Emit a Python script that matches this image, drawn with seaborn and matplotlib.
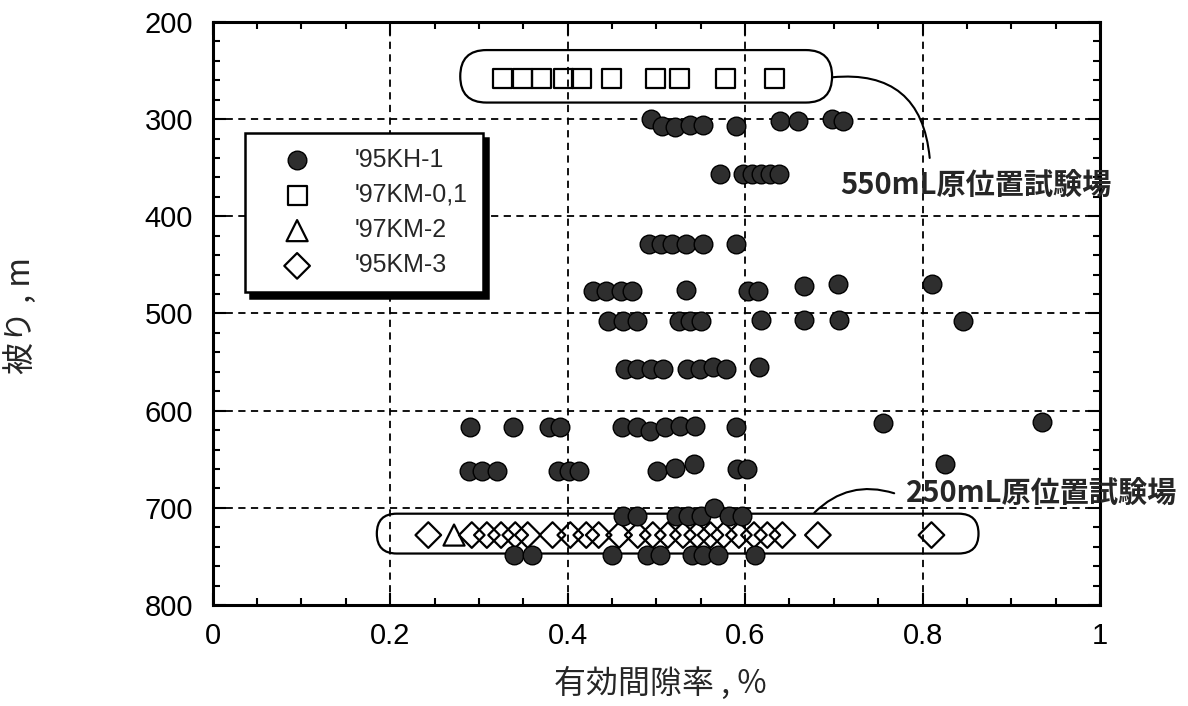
import matplotlib
matplotlib.use("Agg")
import matplotlib.pyplot as plt
import seaborn as sns
import pandas as pd
from matplotlib.patches import FancyBboxPatch
from matplotlib.ticker import MultipleLocator

# '95KH-1 : effective porosity (%) and depth (m), row by row
kh1_porosity = [
    0.494, 0.506, 0.521, 0.538, 0.553, 0.590, 0.639, 0.660, 0.698, 0.710,
    0.572, 0.598, 0.608, 0.618, 0.628, 0.638,
    0.492, 0.505, 0.518, 0.533, 0.552, 0.590,
    0.429, 0.443, 0.460, 0.473, 0.533, 0.603, 0.615, 0.666, 0.705, 0.811,
    0.446, 0.462, 0.478, 0.525, 0.538, 0.550, 0.618, 0.666, 0.706, 0.846,
    0.465, 0.478, 0.494, 0.508, 0.535, 0.549, 0.564, 0.579, 0.616,
    0.290, 0.339, 0.379, 0.391, 0.461, 0.478, 0.493, 0.510, 0.527, 0.544, 0.590, 0.755, 0.934,
    0.289, 0.303, 0.320, 0.389, 0.401, 0.413, 0.501, 0.521, 0.542, 0.591, 0.602, 0.825,
    0.462, 0.478, 0.522, 0.536, 0.550, 0.565, 0.582, 0.596,
    0.340, 0.360, 0.450, 0.489, 0.504, 0.540, 0.553, 0.570, 0.611,
]
kh1_depth = [
    300, 307, 308, 306, 306, 307, 302, 302, 300, 302,
    357, 357, 357, 357, 357, 357,
    429, 429, 429, 429, 429, 429,
    477, 477, 477, 477, 476, 477, 477, 472, 470, 470,
    508, 508, 508, 508, 508, 508, 507, 507, 507, 508,
    557, 557, 557, 557, 557, 557, 555, 557, 555,
    617, 617, 617, 617, 617, 617, 621, 617, 616, 616, 617, 613, 612,
    662, 662, 662, 662, 662, 662, 662, 659, 655, 660, 660, 655,
    708, 708, 708, 708, 708, 700, 708, 708,
    748, 748, 748, 748, 748, 748, 748, 748, 748,
]

# '97KM-0,1 (550mL site)
km01_porosity = [0.327, 0.349, 0.371, 0.395, 0.416, 0.449, 0.499, 0.526, 0.578, 0.633]
km01_depth = [258] * len(km01_porosity)

# '97KM-2
km2_porosity = [0.272]
km2_depth = [728]

# '95KM-3 (250mL site)
km3_porosity = [0.243, 0.292, 0.309, 0.325, 0.341, 0.355, 0.383, 0.403, 0.421, 0.435,
                0.458, 0.479, 0.496, 0.513, 0.530, 0.546, 0.561, 0.576, 0.593, 0.610,
                0.625, 0.642, 0.682, 0.810]
km3_depth = [728] * len(km3_porosity)

x_ticks = [0, 0.2, 0.4, 0.6, 0.8, 1]
x_ticklabels = ["0", "0.2", "0.4", "0.6", "0.8", "1"]
y_ticks = [200, 300, 400, 500, 600, 700, 800]

sns.set_style("ticks")
plt.rcParams["font.family"] = ["Liberation Sans", "Noto Sans CJK JP", "DejaVu Sans"]
cjk = ["Noto Sans CJK JP", "DejaVu Sans"]

fig = plt.figure(figsize=(11.88, 7.06), dpi=100)
ax = fig.add_axes([0.179, 0.143, 0.747, 0.826])

kh1 = pd.DataFrame({"porosity": kh1_porosity, "depth": kh1_depth})
km01 = pd.DataFrame({"porosity": km01_porosity, "depth": km01_depth})
km2 = pd.DataFrame({"porosity": km2_porosity, "depth": km2_depth})
km3 = pd.DataFrame({"porosity": km3_porosity, "depth": km3_depth})

sns.scatterplot(data=kh1, x="porosity", y="depth", ax=ax, marker="o", s=180,
                color="#2e2e2e", edgecolor="black", linewidth=1.0,
                label="'95KH-1", zorder=4)
sns.scatterplot(data=km01, x="porosity", y="depth", ax=ax, marker="s", s=190,
                color="black", facecolor="none", edgecolor="black", linewidth=1.6,
                label="'97KM-0,1", zorder=3)
sns.scatterplot(data=km2, x="porosity", y="depth", ax=ax, marker="^", s=230,
                color="black", facecolor="none", edgecolor="black", linewidth=1.6,
                label="'97KM-2", zorder=3)
sns.scatterplot(data=km3, x="porosity", y="depth", ax=ax, marker="D", s=170,
                color="black", facecolor="none", edgecolor="black", linewidth=1.6,
                label="'95KM-3", zorder=3)

ax.set_xlim(0, 1)
ax.set_ylim(800, 200)
ax.set_xticks(x_ticks)
ax.set_xticklabels(x_ticklabels)
ax.set_yticks(y_ticks)
ax.xaxis.set_minor_locator(MultipleLocator(0.05))
ax.yaxis.set_minor_locator(MultipleLocator(20))
ax.tick_params(which="both", direction="in", top=True, right=True,
               width=1.5, colors="black", labelsize=21)
ax.tick_params(which="major", length=9)
ax.tick_params(which="minor", length=5)
ax.tick_params(axis="y", pad=14)
ax.tick_params(axis="x", pad=12)
for sp in ax.spines.values():
    sp.set_linewidth(2.2)
    sp.set_color("black")
ax.grid(True, which="major", color="black", linestyle=(0, (4, 3)), linewidth=1.3)
ax.set_axisbelow(True)

ax.set_xlabel("有効間隙率 , %", fontsize=23, family=cjk)
ax.set_ylabel("被り , m", fontsize=23, family=cjk)
ax.xaxis.set_label_coords(0.504, -0.106)
ax.yaxis.set_label_coords(-0.198, 0.497)

# rounded boxes around the in-situ test sites
for x0, x1, y0, y1 in [(0.279, 0.698, 229, 283), (0.185, 0.863, 706, 747)]:
    h = y1 - y0
    aspect = 915.0
    box = FancyBboxPatch((x0, y0), x1 - x0, h,
                         boxstyle="round,pad=0,rounding_size=%f" % (h / aspect / 2),
                         mutation_aspect=aspect, facecolor="none",
                         edgecolor="black", linewidth=1.6, zorder=2)
    ax.add_patch(box)

ax.annotate("", xy=(0.698, 257), xytext=(0.808, 340),
            arrowprops=dict(arrowstyle="-", color="black", lw=1.5,
                            connectionstyle="arc3,rad=0.5", shrinkA=0, shrinkB=0))
ax.annotate("", xy=(0.678, 705), xytext=(0.768, 685),
            arrowprops=dict(arrowstyle="-", color="black", lw=1.5,
                            connectionstyle="arc3,rad=0.3", shrinkA=0, shrinkB=0))
ax.text(0.707, 368, "550mL原位置試験場", fontsize=21, fontweight="bold",
        family=cjk, ha="left", va="center", clip_on=False)
ax.text(0.781, 684, "250mL原位置試験場", fontsize=21, fontweight="bold",
        family=cjk, ha="left", va="center", clip_on=False)

leg = ax.legend(loc="upper left", bbox_to_anchor=(0.036, 0.81), borderaxespad=0,
                fontsize=18, frameon=True, fancybox=False, edgecolor="black",
                framealpha=1, borderpad=0.6, handlelength=3.0, handletextpad=0.8,
                labelspacing=0.45,
                shadow={"ox": 4, "oy": -4, "facecolor": "black",
                        "edgecolor": "black", "alpha": 1})
leg.get_frame().set_linewidth(1.8)

fig.savefig("out.png", dpi=100)
